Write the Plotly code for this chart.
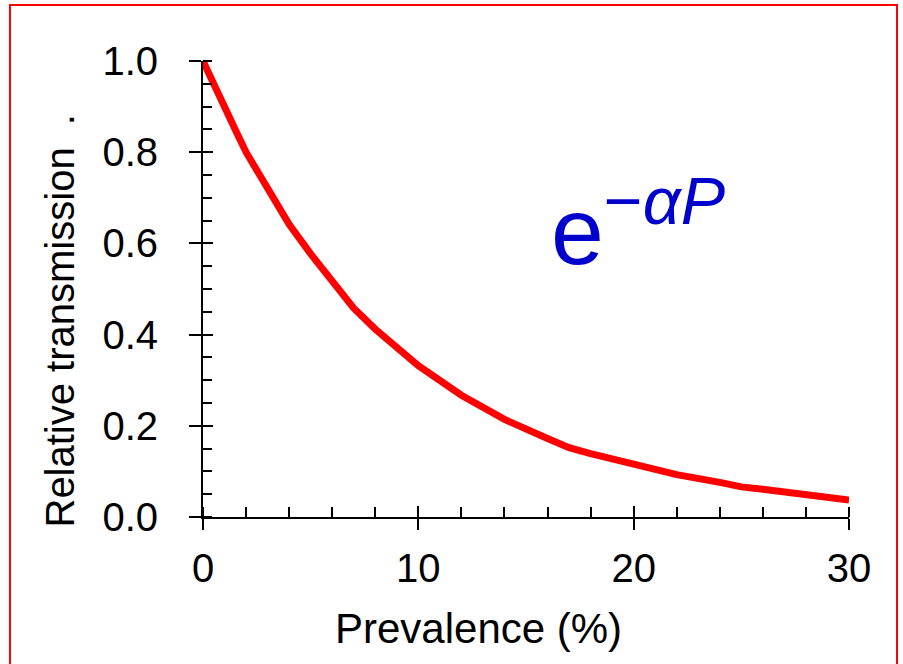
import plotly.graph_objects as go

# Data
prevalence = [0, 1, 1.5, 2, 3, 4, 5, 6, 7, 8, 9, 10, 12, 14, 16, 17, 18, 20, 22, 24, 25, 26, 28, 30]
rel_transmission = [1.0, 0.895, 0.849, 0.80, 0.718, 0.642, 0.577, 0.515, 0.458, 0.412, 0.370, 0.332,
                    0.267, 0.214, 0.172, 0.152, 0.139, 0.115, 0.093, 0.076, 0.066, 0.061, 0.048, 0.037]
x_major = [0, 10, 20, 30]
y_major = [0.0, 0.2, 0.4, 0.6, 0.8, 1.0]
y_labels = ["0.0", "0.2", "0.4", "0.6", "0.8", "1.0"]

FONT = "Liberation Sans, Arial, sans-serif"
fig = go.Figure()
fig.add_trace(go.Scatter(x=prevalence, y=rel_transmission, mode="lines",
                         line=dict(color="#ff0000", width=7), hoverinfo="skip",
                         showlegend=False))
# invisible trace to activate overlay axes (for crossing major ticks)
fig.add_trace(go.Scatter(x=[0], y=[0], xaxis="x2", yaxis="y2", mode="markers",
                         marker=dict(opacity=0), showlegend=False, hoverinfo="skip"))

common = dict(showgrid=False, zeroline=False, tickfont=dict(family=FONT, size=40, color="black"))
fig.update_layout(
    width=903, height=664,
    margin=dict(l=203, r=54, t=61, b=147),
    paper_bgcolor="white", plot_bgcolor="white",
    font=dict(family=FONT, color="black"),
    xaxis=dict(range=[0, 30], tickvals=x_major, ticks="outside", ticklen=11, tickwidth=2,
               tickcolor="black", showline=True, linecolor="black", linewidth=2,
               ticklabelstandoff=4,
               minor=dict(dtick=2, ticks="inside", ticklen=10, tickwidth=2, tickcolor="black"),
               **common),
    yaxis=dict(range=[0, 1.0], tickvals=y_major, ticktext=y_labels, ticks="outside", ticklen=12,
               tickwidth=2, tickcolor="black", showline=True, linecolor="black", linewidth=2,
               ticklabelstandoff=23,
               minor=dict(dtick=0.05, ticks="inside", ticklen=9, tickwidth=2, tickcolor="black"),
               **common),
    xaxis2=dict(range=[0, 30], overlaying="x", anchor="y", side="bottom", tickvals=x_major,
                ticks="inside", ticklen=11, tickwidth=2, tickcolor="black",
                showticklabels=False, showline=False, showgrid=False, zeroline=False),
    yaxis2=dict(range=[0, 1.0], overlaying="y", anchor="x", side="left", tickvals=y_major,
                ticks="inside", ticklen=10, tickwidth=2, tickcolor="black",
                showticklabels=False, showline=False, showgrid=False, zeroline=False),
)

# axis titles as annotations (offset like the reference)
fig.add_annotation(text="Prevalence (%)", xref="paper", yref="paper", x=0.427, y=-0.245,
                   xanchor="center", yanchor="middle", showarrow=False,
                   font=dict(family=FONT, size=42, color="black"))
fig.add_annotation(text="Relative transmission  .", xref="paper", yref="paper", x=-0.222, y=0.43,
                   xanchor="center", yanchor="middle", textangle=-90, showarrow=False,
                   font=dict(family=FONT, size=40, color="black"))

# formula
fig.add_annotation(text="e<sup>−<i>α</i><i>P</i></sup>", xref="x", yref="y", x=16.05, y=0.643,
                   xanchor="left", yanchor="middle", showarrow=False,
                   font=dict(family=FONT, size=95, color="#0000cc"))

# red frame around the figure
fig.add_shape(type="rect", xref="paper", yref="paper", x0=-0.2988, x1=1.0743, y0=-0.34, y1=1.1228,
              line=dict(color="#ff0000", width=2), fillcolor="rgba(0,0,0,0)", layer="above")

fig.write_html("out.html")
